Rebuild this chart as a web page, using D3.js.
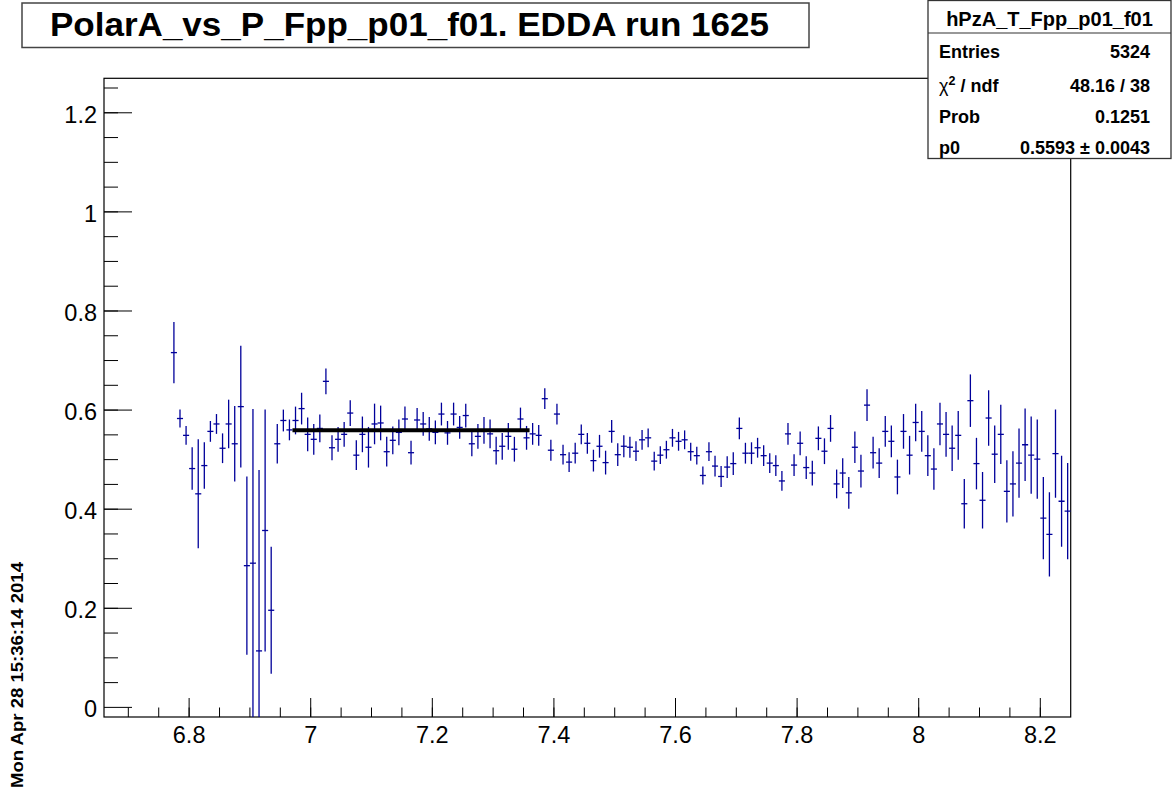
<!DOCTYPE html>
<html><head><meta charset="utf-8">
<script src="https://cdn.jsdelivr.net/npm/d3@7"></script>
<style>
html,body{margin:0;padding:0;background:#fff;}
svg{display:block;font-family:"Liberation Sans",Arial,Helvetica,sans-serif;}
</style></head>
<body>
<svg id="c" width="1174" height="793"></svg>
<script>
// ---- histogram definition ----
const histName = "hPzA_T_Fpp_p01_f01";
const titleText = "PolarA_vs_P_Fpp_p01_f01. EDDA run 1625";
const dateText = "Mon Apr 28 15:36:14 2014";
const xMin = 6.66, xMax = 8.25, nBins = 159;
const yMin = -0.0194, yMax = 1.2696;
const firstBin = 11; // index of first filled bin
const binValues = [
 0.716,0.583,0.549,0.482,0.431,0.488,0.557,0.572,0.523,0.572,
 0.532,0.607,0.286,0.291,0.114,0.357,0.196,0.532,0.579,0.560,
 0.579,0.603,0.551,0.541,0.563,0.658,0.524,0.541,0.551,0.594,
 0.509,0.551,0.525,0.572,0.574,0.516,0.539,0.555,0.582,0.514,
 0.580,0.572,0.562,0.555,0.592,0.554,0.592,0.565,0.589,0.532,
 0.547,0.559,0.552,0.518,0.527,0.547,0.521,0.582,0.544,0.552,
 0.549,0.623,0.519,0.592,0.510,0.495,0.513,0.551,0.533,0.498,
 0.527,0.494,0.557,0.510,0.527,0.525,0.517,0.540,0.544,0.497,
 0.509,0.520,0.544,0.537,0.540,0.516,0.508,0.468,0.516,0.487,
 0.466,0.485,0.492,0.563,0.513,0.513,0.524,0.508,0.493,0.488,
 0.457,0.552,0.489,0.533,0.484,0.473,0.543,0.517,0.563,0.451,
 0.473,0.433,0.525,0.477,0.610,0.514,0.493,0.557,0.537,0.465,
 0.557,0.509,0.575,0.557,0.508,0.481,0.572,0.551,0.523,0.549,
 0.411,0.619,0.492,0.418,0.584,0.511,0.551,0.436,0.451,0.493,
 0.530,0.509,0.501,0.382,0.349,0.512,0.416,0.396
];
const binErrors = [
 0.062,0.018,0.019,0.043,0.110,0.047,0.021,0.020,0.030,0.049,
 0.076,0.123,0.180,0.311,0.365,0.244,0.128,0.040,0.022,0.021,
 0.028,0.032,0.034,0.031,0.028,0.026,0.025,0.025,0.025,0.026,
 0.030,0.036,0.041,0.041,0.035,0.030,0.028,0.026,0.025,0.024,
 0.024,0.024,0.024,0.024,0.023,0.024,0.023,0.023,0.024,0.025,
 0.025,0.027,0.029,0.028,0.027,0.027,0.025,0.023,0.024,0.022,
 0.021,0.021,0.021,0.021,0.020,0.020,0.021,0.020,0.021,0.022,
 0.023,0.024,0.023,0.023,0.022,0.021,0.020,0.020,0.019,0.019,
 0.018,0.018,0.018,0.019,0.019,0.018,0.018,0.018,0.019,0.021,
 0.021,0.022,0.023,0.022,0.021,0.022,0.020,0.021,0.020,0.021,
 0.020,0.022,0.022,0.024,0.023,0.025,0.024,0.026,0.027,0.029,
 0.030,0.032,0.032,0.033,0.032,0.032,0.030,0.031,0.032,0.035,
 0.035,0.039,0.038,0.041,0.041,0.042,0.043,0.045,0.046,0.049,
 0.050,0.053,0.052,0.057,0.056,0.058,0.060,0.063,0.066,0.070,
 0.073,0.078,0.080,0.083,0.085,0.089,0.092,0.097
];
// fit
const fitRange = [6.97, 7.36];
const fitP0 = 0.5593;
// ticks
const xMajorTicks = [6.8,7,7.2,7.4,7.6,7.8,8,8.2];
const xTickLabels = ["6.8","7","7.2","7.4","7.6","7.8","8","8.2"];
const yMajorTicks = [0,0.2,0.4,0.6,0.8,1,1.2];
const yTickLabels = ["0","0.2","0.4","0.6","0.8","1","1.2"];
const statLabels = ["Entries","χ2 / ndf","Prob","p0"];
const statValues = ["5324","48.16 / 38","0.1251","0.5593 ± 0.0043"];

// ---- drawing ----
const svg = d3.select("#c");
const L = 104, R = 1070.7, T = 78.3, B = 717;
const x = d3.scaleLinear().domain([xMin, xMax]).range([L, R]);
const y = d3.scaleLinear().domain([yMin, yMax]).range([B, T]);
const binW = (xMax - xMin) / nBins;

svg.append("defs").append("clipPath").attr("id","clip")
  .append("rect").attr("x",L).attr("y",T).attr("width",R-L).attr("height",B-T);

// frame
svg.append("rect").attr("x",L).attr("y",T).attr("width",R-L).attr("height",B-T)
  .attr("fill","none").attr("stroke","#000").attr("stroke-width",1.2);

// x axis ticks
const xMinor = d3.range(Math.round(xMin/0.05)+1, Math.round(xMax/0.05)).map(i => +(i*0.05).toFixed(2));
const gx = svg.append("g");
gx.selectAll("line.minor").data(xMinor).join("line")
  .attr("x1",d=>x(d)).attr("x2",d=>x(d)).attr("y1",B).attr("y2",B-9.5)
  .attr("stroke","#000").attr("stroke-width",1);
gx.selectAll("line.major").data(xMajorTicks).join("line")
  .attr("x1",d=>x(d)).attr("x2",d=>x(d)).attr("y1",B).attr("y2",B-19)
  .attr("stroke","#000").attr("stroke-width",1);
gx.selectAll("text").data(xMajorTicks).join("text")
  .attr("x",d=>x(d)).attr("y",742.5).attr("text-anchor","middle")
  .attr("font-size",23.5).attr("fill","#000")
  .text((d,i)=>xTickLabels[i]);

// y axis ticks
const yMinor = d3.range(1, Math.floor(yMax/0.05)+1).map(i => +(i*0.05).toFixed(2));
const gy = svg.append("g");
gy.selectAll("line.minor").data(yMinor).join("line")
  .attr("x1",L).attr("x2",L+14).attr("y1",d=>y(d)).attr("y2",d=>y(d))
  .attr("stroke","#000").attr("stroke-width",1);
gy.selectAll("line.major").data(yMajorTicks).join("line")
  .attr("x1",L).attr("x2",L+28).attr("y1",d=>y(d)).attr("y2",d=>y(d))
  .attr("stroke","#000").attr("stroke-width",1);
gy.selectAll("text").data(yMajorTicks).join("text")
  .attr("x",97).attr("y",d=>y(d)+10).attr("text-anchor","end")
  .attr("font-size",23.5).attr("fill","#000")
  .text((d,i)=>yTickLabels[i]);

// data points with error bars
const pts = binValues.map((v,i)=>({
  lo: xMin + (firstBin+i)*binW, c: xMin + (firstBin+i+0.5)*binW, v, e: binErrors[i]
}));
const gd = svg.append("g").attr("clip-path","url(#clip)");
const col = "#00009a";
gd.selectAll("line.ey").data(pts).join("line")
  .attr("x1",d=>x(d.c)).attr("x2",d=>x(d.c))
  .attr("y1",d=>y(d.v-d.e)).attr("y2",d=>y(d.v+d.e))
  .attr("stroke",col).attr("stroke-width",1.3);
gd.selectAll("line.ex").data(pts).join("line")
  .attr("x1",d=>x(d.lo)).attr("x2",d=>x(d.lo+binW))
  .attr("y1",d=>y(d.v)).attr("y2",d=>y(d.v))
  .attr("stroke",col).attr("stroke-width",1.3);

// fit line
svg.append("line")
  .attr("x1",x(fitRange[0])).attr("x2",x(fitRange[1]))
  .attr("y1",y(fitP0)).attr("y2",y(fitP0))
  .attr("stroke","#000").attr("stroke-width",4);

// title box
svg.append("rect").attr("x",22).attr("y",3).attr("width",787).attr("height",44.5)
  .attr("fill","#fff").attr("stroke","#444").attr("stroke-width",1.5);
svg.append("text").attr("x",50).attr("y",36).attr("text-anchor","start")
  .attr("font-size",33).attr("font-weight","bold").attr("fill","#000")
  .attr("textLength",719).attr("lengthAdjust","spacingAndGlyphs")
  .text(titleText);

// stats box
const sx = 928, sw = 243, sy = 0.5, sh = 158;
svg.append("rect").attr("x",sx).attr("y",sy).attr("width",sw).attr("height",sh)
  .attr("fill","#fff").attr("stroke","#333").attr("stroke-width",1.3);
svg.append("line").attr("x1",sx).attr("x2",sx+sw).attr("y1",33).attr("y2",33)
  .attr("stroke","#333").attr("stroke-width",1.2);
svg.append("text").attr("x",sx+sw/2).attr("y",25.5).attr("text-anchor","middle")
  .attr("font-size",20).attr("font-weight","bold").text(histName);
const rowY = [57.5, 91.5, 122.5, 153.5];
statLabels.forEach((lab,i)=>{
  const t = svg.append("text").attr("x",939).attr("y",rowY[i])
    .attr("font-size",18).attr("font-weight","bold");
  if (lab.startsWith("χ2")) {
    t.append("tspan").attr("font-weight","normal").text("χ");
    t.append("tspan").attr("dy",-7).attr("font-size",12.5).text("2");
    t.append("tspan").attr("dy",7).text(" / ndf");
  } else t.text(lab);
  svg.append("text").attr("x",1150).attr("y",rowY[i]).attr("text-anchor","end")
    .attr("font-size",18).attr("font-weight","bold").text(statValues[i]);
});

// date
svg.append("text").attr("transform","translate(23,788) rotate(-90)")
  .attr("font-size",16.5).attr("font-weight","bold")
  .attr("textLength",226).attr("lengthAdjust","spacingAndGlyphs")
  .text(dateText);
</script>
</body></html>
